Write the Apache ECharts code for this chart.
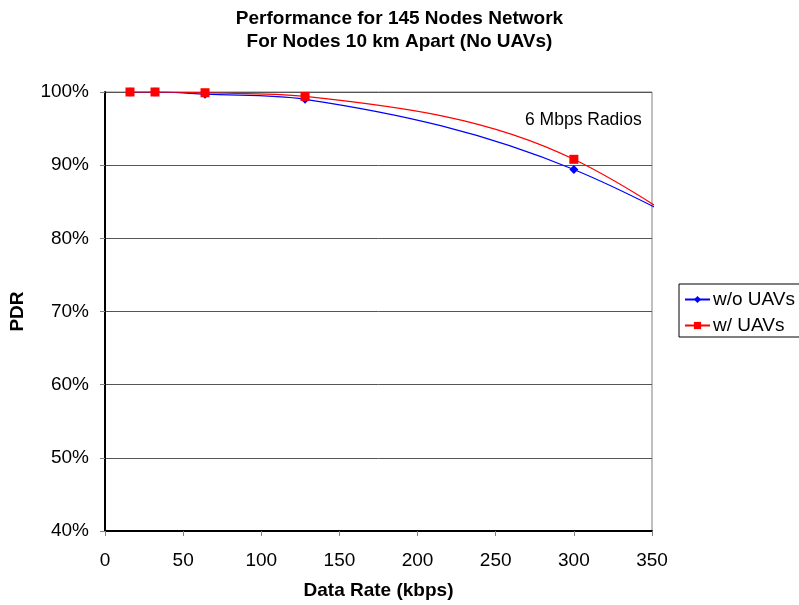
<!DOCTYPE html>
<html>
<head>
<meta charset="utf-8">
<style>
  html, body { margin: 0; padding: 0; background: #fff; }
  #chart { width: 799px; height: 605px; }
</style>
<script src="https://cdn.jsdelivr.net/npm/echarts@6/dist/echarts.min.js"></script>
</head>
<body>
<div id="chart"></div>
<script>
// Data rates (kbps); the last rate lies beyond the visible axis range
const dataRates = [16, 32, 64, 128, 300, 512];
// Packet delivery ratio (%) per data rate
const pdrWithoutUAVs = [100, 100, 99.7, 99.0, 89.4, 65.0];
const pdrWithUAVs = [100, 100, 99.9, 99.4, 90.8, 59.5];
const seriesNames = ['w/o UAVs', 'w/ UAVs'];
const titleLines = ['Performance for 145 Nodes Network', 'For Nodes 10 km Apart (No UAVs)'];
const noteText = '6 Mbps Radios';

const FONT = "'Liberation Sans', Arial, sans-serif";

const pairs = ys => dataRates.map((x, i) => [x, ys[i]]);

const chart = echarts.init(document.getElementById('chart'), null, { renderer: 'canvas' });

chart.setOption({
  backgroundColor: '#ffffff',
  animation: false,
  textStyle: { fontFamily: FONT, color: '#000' },
  title: {
    text: titleLines.join('\n'),
    left: 'center',
    top: 2,
    textStyle: { fontFamily: FONT, fontSize: 19, fontWeight: 'bold', color: '#000', lineHeight: 23 }
  },
  grid: {
    left: 104, top: 92, right: 147, bottom: 74,
    show: true, borderColor: '#808080', borderWidth: 1, backgroundColor: 'transparent'
  },
  legend: {
    orient: 'vertical',
    left: 679,
    top: 284,
    padding: [6, 40, 2, 5],
    itemGap: 7,
    itemWidth: 25,
    itemHeight: 9,
    borderColor: '#000',
    borderWidth: 1,
    textStyle: { fontFamily: FONT, fontSize: 19, color: '#000', padding: [0, 0, 0, -2] },
    data: seriesNames
  },
  xAxis: {
    type: 'value',
    min: 0, max: 350, interval: 50,
    name: 'Data Rate (kbps)',
    nameLocation: 'middle',
    nameGap: 50,
    nameTextStyle: { fontFamily: FONT, fontSize: 19, fontWeight: 'bold', color: '#000' },
    axisLine: { show: true, onZero: false, lineStyle: { color: '#000', width: 2 } },
    axisTick: { show: true, inside: false, length: 5, lineStyle: { color: '#808080', width: 1 } },
    axisLabel: { margin: 20, fontFamily: FONT, fontSize: 19, color: '#000' },
    splitLine: { show: false }
  },
  yAxis: {
    type: 'value',
    min: 40, max: 100, interval: 10,
    name: 'PDR',
    nameLocation: 'middle',
    nameGap: 78,
    nameRotate: 90,
    nameTextStyle: { fontFamily: FONT, fontSize: 19, fontWeight: 'bold', color: '#000' },
    axisLine: { show: true, onZero: false, lineStyle: { color: '#000', width: 2 } },
    axisTick: { show: true, inside: false, length: 5, lineStyle: { color: '#808080', width: 1 } },
    axisLabel: { margin: 16, fontFamily: FONT, fontSize: 19, color: '#000', formatter: '{value}%' },
    splitLine: { show: true, lineStyle: { color: '#555555', width: 1 } }
  },
  graphic: [{
    type: 'text',
    left: 525,
    top: 111,
    style: { text: noteText, fontFamily: FONT, fontSize: 17.5, fill: '#000' }
  }],
  series: [
    {
      name: seriesNames[0],
      type: 'line',
      data: pairs(pdrWithoutUAVs),
      smooth: 0.35,
      clip: true,
      symbol: 'diamond',
      symbolSize: 9,
      lineStyle: { color: '#0000ff', width: 1.2 },
      itemStyle: { color: '#0000ff' },
      z: 2
    },
    {
      name: seriesNames[1],
      type: 'line',
      data: pairs(pdrWithUAVs),
      smooth: 0.35,
      clip: true,
      symbol: 'rect',
      symbolSize: 9,
      lineStyle: { color: '#ff0000', width: 1.2 },
      itemStyle: { color: '#ff0000' },
      z: 3
    }
  ]
});
</script>
</body>
</html>
